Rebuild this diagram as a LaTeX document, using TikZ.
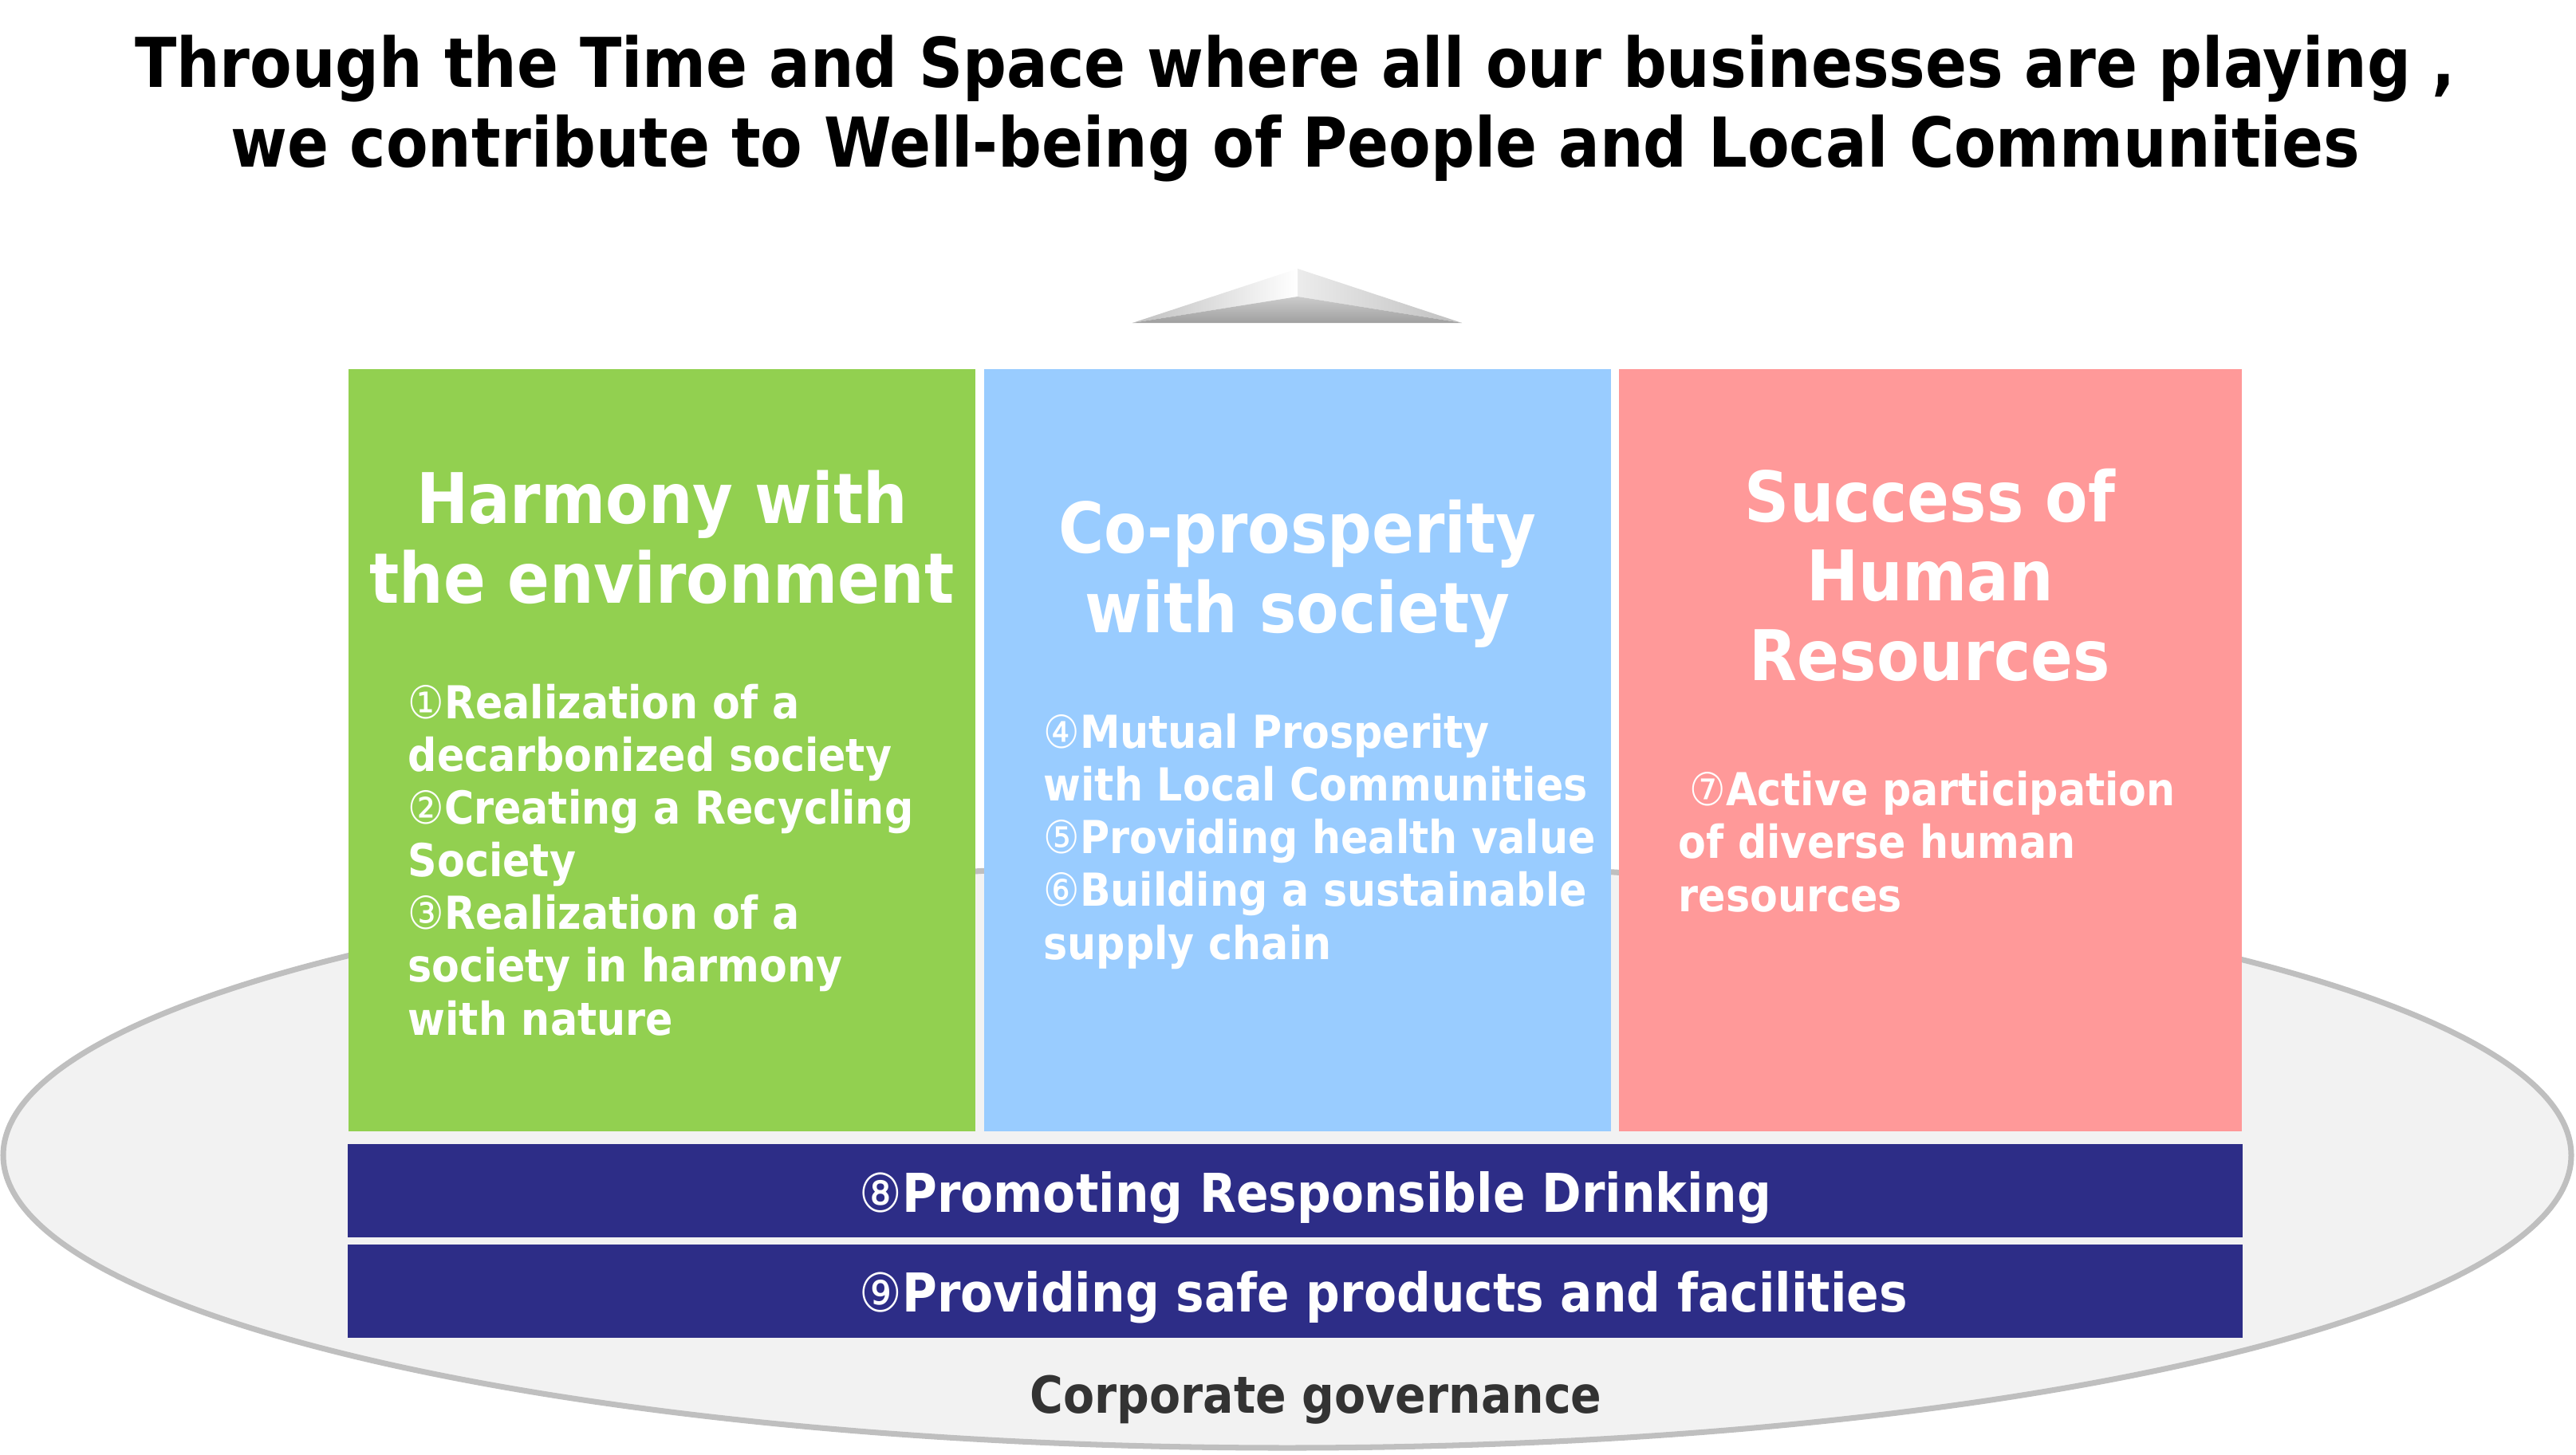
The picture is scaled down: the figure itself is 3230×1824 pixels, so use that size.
\documentclass[tikz,border=0pt]{standalone}
\usepackage{fontspec}
\newfontfamily\mfont{DejaVu Sans}[FakeStretch=0.89]
\newcommand{\circnum}[1]{{\mdseries#1}}
\definecolor{envgreen}{HTML}{92D050}
\definecolor{socblue}{HTML}{99CCFF}
\definecolor{hrpink}{HTML}{FF9999}
\definecolor{barnavy}{HTML}{2D2D87}
\definecolor{basefill}{HTML}{F2F2F2}
\definecolor{baseedge}{HTML}{BFBFBF}
\definecolor{govgray}{HTML}{333333}

\begin{document}
\begin{tikzpicture}[x=0.01cm,y=-0.01cm,
  pillar/.style={inner sep=0,minimum width=7.86cm,minimum height=9.56cm},
  bar/.style={inner sep=0,fill=barnavy,minimum width=23.74cm,minimum height=1.17cm},
  title text/.style={inner sep=0,align=center,font=\mfont\bfseries\fontsize{24.5}{28.2}\selectfont},
  head text/.style={inner sep=0,align=center,text=white,anchor=base,font=\mfont\bfseries\fontsize{24.9}{28.2}\selectfont},
  item text/.style={inner sep=0,align=left,text=white,anchor=base west,font=\mfont\bfseries\fontsize{16.2}{18.8}\selectfont},
  bar text/.style={inner sep=0,text=white,anchor=base west,font=\mfont\bfseries\fontsize{19.1}{22}\selectfont}]

  \useasboundingbox (0,0) rectangle (3230,1824);

  \draw[fill=basefill,draw=baseedge,line width=2pt] (1614,1449) ellipse [x radius=1610,y radius=367];

  \coordinate (apex) at (1627,337);
  \coordinate (inner) at (1627,372);
  \coordinate (bl) at (1420,405);
  \coordinate (br) at (1833,405);
  \shade[left color=gray!50,right color=white] (bl) -- (apex) -- (inner) -- cycle;
  \shade[left color=gray!15,right color=gray!50] (apex) -- (br) -- (inner) -- cycle;
  \shade[top color=gray!40,bottom color=gray!75] (bl) -- (inner) -- (br) -- cycle;

  \node[title text,anchor=base] (title) at (1624,209) {Through the Time and Space where all our businesses are playing ,\\we contribute to Well-being of People and Local Communities};

  \node[pillar,fill=envgreen] (env) at (830,941) {};
  \node[pillar,fill=socblue] (soc) at (1627,941) {};
  \node[pillar,fill=hrpink,minimum width=7.81cm] (hr) at (2420.5,941) {};

  \node[head text] (envhead) at (830,756) {Harmony with\\the environment};
  \node[head text] (sochead) at (1627,793) {Co-prosperity\\with society};
  \node[head text] (hrhead) at (2420,853) {Success of\\Human\\Resources};

  \node[item text] (envitems) at (511,1298) {\circnum{①}Realization of a\\decarbonized society\\\circnum{②}Creating a Recycling\\Society\\\circnum{③}Realization of a\\society in harmony\\with nature};
  \node[item text] (socitems) at (1308,1203) {\circnum{④}Mutual Prosperity\\with Local Communities\\\circnum{⑤}Providing health value\\\circnum{⑥}Building a sustainable\\supply chain};
  \node[item text] (hritems) at (2104,1143) {\hspace{0.14cm}\circnum{⑦}Active participation\\of diverse human\\resources};

  \node[bar] (drink) at (1624,1493.5) {};
  \node[bar] (safe) at (1624,1619.5) {};
  \node[bar text] (drinktext) at (1077,1520) {\circnum{⑧}Promoting Responsible Drinking};
  \node[bar text] (safetext) at (1077,1645) {\circnum{⑨}Providing safe products and facilities};

  \node[inner sep=0,anchor=base,text=govgray,font=\mfont\bfseries\fontsize{18.2}{22}\selectfont] (gov) at (1650,1772) {Corporate governance};

\end{tikzpicture}
\end{document}
